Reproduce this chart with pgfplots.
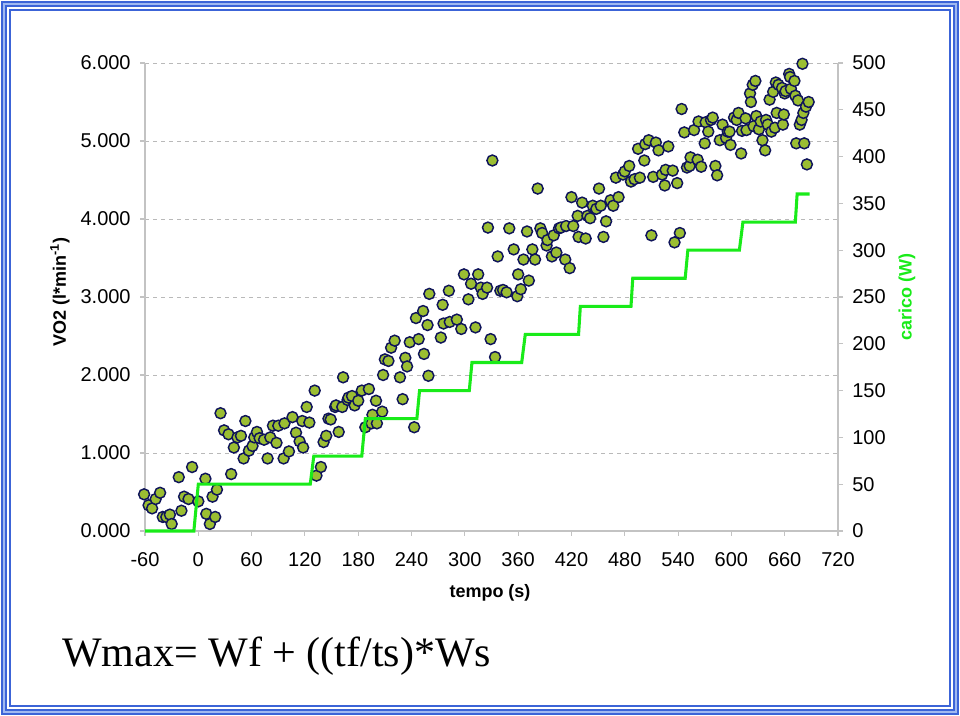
\documentclass[border=0pt]{standalone}
\usepackage{pgfplots}
\pgfplotsset{compat=1.18}
\usepackage{pgfplotstable}
\usepackage{fontspec}
\setmainfont{Liberation Sans}
\newfontfamily\seriffont{Liberation Serif}
\definecolor{mkfill}{RGB}{155,190,50}
\definecolor{mkdraw}{RGB}{15,20,90}
\definecolor{stepgreen}{RGB}{25,235,25}
\definecolor{gridgray}{RGB}{185,185,185}
\definecolor{axgray}{RGB}{195,195,195}
\definecolor{frameblue}{RGB}{60,100,215}
\definecolor{framelight}{RGB}{160,185,240}

\pgfplotstableread{
x y
-61 0.47
-56 0.33
-52 0.29
-48 0.41
-43 0.49
-40 0.18
-36 0.18
-32 0.21
-30 0.09
-22 0.69
-19 0.26
-16 0.44
-11 0.41
-7 0.82
0 0.38
8 0.67
9 0.22
13 0.09
16 0.44
19 0.18
21 0.53
25 1.51
29 1.29
34 1.24
37 0.73
40 1.07
44 1.20
48 1.22
51 0.93
53 1.41
57 1.03
61 1.09
63 1.20
66 1.27
69 1.19
74 1.17
78 0.93
81 1.20
84 1.35
88 1.13
90 1.35
96 0.93
97 1.38
102 1.02
106 1.46
110 1.26
114 1.15
117 1.41
118 1.07
122 1.59
125 1.39
131 1.80
133 0.71
138 0.82
141 1.14
144 1.22
146.5 1.44
149 1.43
154 1.59
155 1.61
158 1.27
162 1.59
163 1.97
168 1.68
169 1.71
173 1.73
176 1.61
180 1.67
184 1.80
192 1.82
188 1.33
196 1.49
195 1.38
200 1.67
201 1.38
207 1.53
208 2.00
210 2.20
214 2.18
217 2.35
221 2.44
227 1.97
230 1.69
233 2.22
235 2.11
238 2.42
243 1.33
245 2.73
248 2.46
253 2.82
254 2.27
258 2.64
259 1.99
260 3.04
273 2.48
275 2.90
276 2.66
282 3.08
283 2.68
291 2.71
296 2.59
299 3.29
304 2.97
307 3.17
312 2.61
315 3.29
318 3.12
320 3.04
325 3.12
326 3.89
329 2.46
331 4.75
334 2.23
337 3.52
340 3.08
343 3.09
347 3.06
350 3.88
355 3.61
359 3.01
360 3.29
363 3.10
366 3.48
370 3.84
372 3.21
376 3.61
379 3.48
382 4.39
385 3.88
387 3.82
392 3.66
393 3.73
398 3.52
400 3.79
403 3.57
406 3.88
408 3.89
413 3.48
414 3.91
418 3.37
420 4.28
422 3.91
427 4.04
428 3.77
432 4.21
436 3.75
438 4.04
441 4.01
444 4.17
448 4.13
451 4.39
453 4.17
456 3.77
459 3.97
464 4.24
467 4.17
470 4.53
473 4.28
478 4.57
480 4.61
485 4.68
487 4.48
491 4.51
495 4.90
497 4.53
502 4.75
503 4.96
507 5.01
510 3.79
512 4.54
515 4.98
518 4.88
522 4.57
525 4.43
526 4.63
529 4.93
534 4.62
536 3.70
539 4.46
542 3.82
544 5.41
547 5.11
550 4.66
553 4.68
554 4.79
558 5.14
562 4.76
563 5.25
566 4.67
570 4.97
571 5.24
574 5.12
577 5.27
579 5.30
582 4.68
584 4.56
587 5.01
590 5.21
594 5.04
596 5.12
598 5.12
599 4.95
603 5.30
606 5.27
608 5.36
611 4.84
612 5.13
616 5.29
617 5.14
621 5.61
622 5.50
624 5.72
625 5.19
627 5.77
628 5.32
631 5.15
633 5.25
635 5.01
638 4.88
639 5.27
641 5.21
643 5.53
645 5.12
647 5.63
649 5.17
650 5.75
651 5.36
653 5.72
657 5.68
658 5.21
659 5.34
660 5.61
661 5.64
665 5.86
666 5.82
667 5.67
671 5.77
672 5.58
673 4.97
675 5.52
677 5.21
679 5.27
680 5.99
681 5.36
682 4.97
684 5.44
685 4.70
687 5.50
}\vodata

\pgfplotstableread{
x w
-60 0
-5 0
0 50
126 50
130 80
184 80
188 120
246 120
249 150
305 150
308 180
364 180
368 210
428 210
430 240
487 240
489 270
548 270
551 300
609 300
613 330
672 330
674 360
688 360
}\carico

\pgfplotsset{
  myax/.style={
    at={(108.75pt,138.75pt)}, anchor=south west,
    scale only axis, width=519.75pt, height=351pt,
    xmin=-60, xmax=720,
    axis line style={-, draw=axgray, line width=0.8pt},
    tick style={draw=axgray, line width=0.8pt},
    major tick length=3.75pt,
    tick align=outside,
    ticklabel style={font=\fontsize{15}{17}\selectfont},
    /pgf/number format/assume math mode=true,
  }
}

\begin{document}
\begin{tikzpicture}
\path[use as bounding box] (0,0) rectangle (720pt,537pt);
% frame
\draw[frameblue, line width=1.9pt] (1.5pt,1.5pt) rectangle (718.5pt,535.5pt);
\draw[framelight, line width=0.9pt] (3.0pt,3.0pt) rectangle (717pt,534pt);
\draw[frameblue, line width=1.2pt] (4.3pt,4.3pt) rectangle (715.7pt,532.7pt);
\draw[frameblue, line width=1.5pt] (7.3pt,7.3pt) rectangle (712.7pt,529.7pt);

\begin{axis}[myax,
  ymin=0, ymax=6, ytick={0,1,...,6},
  xtick={-60,0,...,720},
  axis x line*=bottom, axis y line*=left,
  ymajorgrids, grid style={dashed, gridgray, line width=0.7pt},
  yticklabel style={xshift=-3.5pt, /pgf/number format/.cd, fixed, fixed zerofill, precision=3, 1000 sep={}},
  xticklabel style={yshift=-8.5pt},
  clip=false]
\addplot[only marks, mark=*, mark size=4.1pt,
  mark options={fill=mkfill, draw=mkdraw, line width=1.1pt}] table[x=x,y=y] {\vodata};
\end{axis}

\begin{axis}[myax,
  ymin=0, ymax=500, ytick={0,50,...,500},
  yticklabel style={xshift=3.5pt},
  axis y line*=right, axis x line=none,
  clip=false]
\addplot[stepgreen, line width=2.3pt] table[x=x,y=w] {\carico};
\end{axis}

\node[rotate=90, font=\fontsize{13.5}{15}\selectfont\bfseries] at (45pt,318pt) {VO2 (l*min\textsuperscript{-1})};
\node[rotate=90, font=\fontsize{13.5}{15}\selectfont\bfseries, text=stepgreen] at (680.25pt,314.25pt) {carico (W)};
\node[font=\fontsize{13.5}{15}\selectfont\bfseries] at (367.5pt,92.25pt) {tempo (s)};
\node[anchor=base west, inner sep=0pt, font=\seriffont\fontsize{31.5}{34}\selectfont] at (46.5pt,36.75pt) {Wmax= Wf + ((tf/ts)*Ws};
\end{tikzpicture}
\end{document}
